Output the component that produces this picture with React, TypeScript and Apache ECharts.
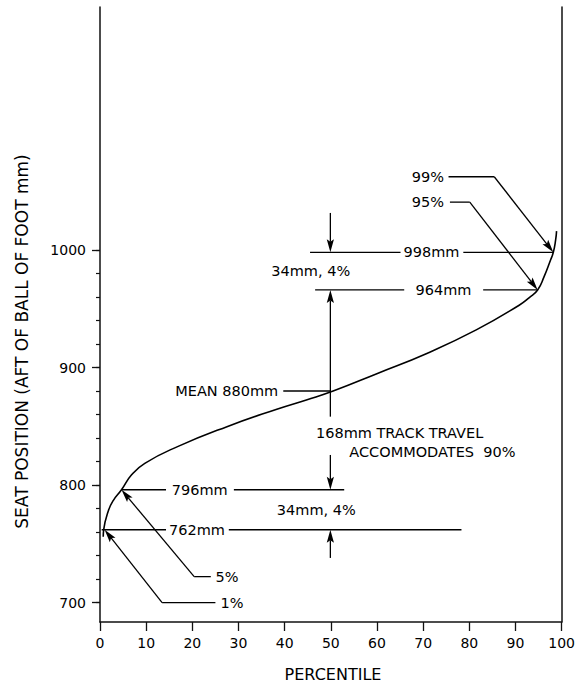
import React, { useEffect, useRef } from "react";
import * as echarts from "echarts";

// ---- Curve ----
const percentile = [0.7, 0.8, 1.8, 2.9, 4.66, 6.8, 9.7, 16.8, 27.5, 38.3, 44.7, 50.5, 60.1, 70.8, 81.5, 90.8, 93.0, 94.8, 96.2, 97.6, 98.2, 98.7, 98.9];
const seatMm = [756, 762, 778, 787, 796, 808.5, 818.5, 832.7, 849.7, 864.5, 872.4, 880, 895, 912, 932, 953, 959.5, 966, 977.3, 991.5, 998, 1008.5, 1016];

// ---- Axis ticks ----
const xTicks = [0, 10, 20, 30, 40, 50, 60, 70, 80, 90, 100];
const yLabelTicks = [700, 800, 900, 1000];
const yMinorTicks = [700, 720, 740, 760, 780, 800, 820, 840, 860, 880, 900, 920, 940, 960, 980, 1000];

// ---- Annotation texts (data coordinates: percentile, mm) ----
const annoTexts: [string, number, number, string][] = [
  ["99%", 74.5, 1062.3, "right"],
  ["95%", 74.5, 1040.7, "right"],
  ["998mm", 71.8, 998, "center"],
  ["964mm", 74.4, 966, "center"],
  ["34mm, 4%", 54.2, 981.7, "right"],
  ["MEAN 880mm", 38.6, 880, "right"],
  ["168mm TRACK TRAVEL", 64.9, 844.1, "center"],
  ["ACCOMMODATES  90%", 72, 828.4, "center"],
  ["796mm", 21.6, 796, "center"],
  ["34mm, 4%", 55.4, 778.9, "right"],
  ["762mm", 21, 762, "center"],
  ["5%", 25.0, 722.1, "left"],
  ["1%", 26.1, 700, "left"],
];

// plain line segments [p1, v1, p2, v2]
const annoSegments: number[][] = [
  [45.5, 998, 65.1, 998], [78.7, 998, 98.2, 998],
  [46.6, 966, 65.9, 966], [83, 966, 94.8, 966],
  [39.7, 880, 49.9, 880],
  [4.66, 796, 14.3, 796], [29, 796, 52.9, 796],
  [0.36, 762, 14.3, 762], [27.9, 762, 78.3, 762],
  [75.5, 1062.3, 85.4, 1062.3],
  [75.8, 1040.7, 80.1, 1040.7],
  [20.4, 722.1, 24.0, 722.1],
  [13.45, 700, 25.0, 700],
];

// arrows [fromP, fromV, tipP, tipV]
const annoArrows: number[][] = [
  [85.4, 1062.3, 98.2, 998],
  [80.1, 1040.7, 94.8, 966],
  [49.9, 1031.5, 49.9, 998],
  [49.9, 858.2, 49.9, 966],
  [49.9, 825.6, 49.9, 796],
  [49.9, 738, 49.9, 762],
  [20.4, 722.1, 4.66, 796],
  [13.45, 700, 1.0, 762],
];

const FONT = '"DejaVu Sans", "Liberation Sans", sans-serif';
const INK = "#000";

export default function App() {
  const ref = useRef<HTMLDivElement>(null);

  useEffect(() => {
    if (!ref.current) return;
    const chart = echarts.init(ref.current, undefined, { renderer: "svg" });
    const yMin = 683.5;
    const yMax = 1206.7;
    const option: any = {
      animation: false,
      backgroundColor: "#fff",
      grid: { left: 100, right: 12, top: 7, bottom: 61, containLabel: false },
      xAxis: {
        type: "value",
        min: 0,
        max: 100,
        interval: 10,
        axisLine: { show: true, lineStyle: { color: "#111", width: 1.5 } },
        axisTick: { show: true, inside: false, length: 9, lineStyle: { color: "#111", width: 1.3 }, customValues: xTicks },
        axisLabel: { color: INK, fontSize: 14, fontFamily: FONT, margin: 14, customValues: xTicks, formatter: (v: number) => String(v) },
        splitLine: { show: false },
      },
      yAxis: [
        {
          type: "value",
          min: yMin,
          max: yMax,
          position: "left",
          axisLine: { show: true, lineStyle: { color: "#111", width: 1.5 } },
          axisTick: { show: true, length: 4, lineStyle: { color: "#111", width: 1.2 }, customValues: yMinorTicks },
          axisLabel: { color: INK, fontSize: 14, fontFamily: FONT, margin: 14, customValues: yLabelTicks, formatter: (v: number) => String(v) },
          splitLine: { show: false },
        },
        {
          type: "value",
          min: yMin,
          max: yMax,
          position: "left",
          offset: 0,
          axisLine: { show: false },
          axisTick: { show: true, length: 8, lineStyle: { color: "#111", width: 1.3 }, customValues: yLabelTicks },
          axisLabel: { show: false },
          splitLine: { show: false },
        },
        {
          type: "value",
          min: yMin,
          max: yMax,
          position: "right",
          axisLine: { show: true, lineStyle: { color: "#111", width: 1.5 } },
          axisTick: { show: false },
          axisLabel: { show: false },
          splitLine: { show: false },
        },
      ],
      series: [
        {
          type: "line",
          data: percentile.map((p, i) => [p, seatMm[i]]),
          showSymbol: false,
          smooth: 0.5,
          lineStyle: { color: "#000", width: 1.6 },
          silent: true,
        },
      ],
    };
    chart.setOption(option);

    const toPx = (p: number, v: number) =>
      chart.convertToPixel({ xAxisIndex: 0, yAxisIndex: 0 }, [p, v]) as number[];

    const graphics: any[] = [];
    const stroke = { stroke: "#000", lineWidth: 1.3 };

    annoSegments.forEach(([p1, v1, p2, v2]) => {
      const a = toPx(p1, v1);
      const b = toPx(p2, v2);
      graphics.push({ type: "line", shape: { x1: a[0], y1: a[1], x2: b[0], y2: b[1] }, style: stroke, silent: true });
    });

    annoArrows.forEach(([p1, v1, p2, v2]) => {
      const a = toPx(p1, v1);
      const t = toPx(p2, v2);
      const dx = t[0] - a[0];
      const dy = t[1] - a[1];
      const len = Math.hypot(dx, dy);
      const ux = dx / len;
      const uy = dy / len;
      const nx = -uy;
      const ny = ux;
      const L = 13;
      const W = 3.6;
      const bx = t[0] - ux * L;
      const by = t[1] - uy * L;
      const notchX = bx + ux * 2.5;
      const notchY = by + uy * 2.5;
      graphics.push({ type: "line", shape: { x1: a[0], y1: a[1], x2: notchX, y2: notchY }, style: stroke, silent: true });
      graphics.push({
        type: "polygon",
        shape: { points: [[t[0], t[1]], [bx + nx * W, by + ny * W], [notchX, notchY], [bx - nx * W, by - ny * W]] },
        style: { fill: "#000" },
        silent: true,
      });
    });

    annoTexts.forEach(([text, p, v, align]) => {
      const a = toPx(p, v);
      graphics.push({
        type: "text",
        x: a[0],
        y: a[1],
        style: { text, fill: INK, fontSize: 14.5, fontFamily: FONT, align, verticalAlign: "middle" },
        silent: true,
      });
    });

    // axis titles
    graphics.push({
      type: "text",
      x: 333,
      y: 674,
      style: { text: "PERCENTILE", fill: INK, fontSize: 16, fontFamily: FONT, align: "center", verticalAlign: "middle" },
      silent: true,
    });
    graphics.push({
      type: "text",
      x: 21.7,
      y: 341.5,
      rotation: Math.PI / 2,
      style: {
        text: "SEAT POSITION (AFT OF BALL OF FOOT mm)",
        fill: INK,
        fontSize: 17,
        fontFamily: FONT,
        align: "center",
        verticalAlign: "middle",
      },
      silent: true,
    });

    chart.setOption({ graphic: graphics });

    return () => chart.dispose();
  }, []);

  return (
    <div
      ref={ref}
      style={{ position: "fixed", left: 0, top: 0, width: 578, height: 683, background: "#fff" }}
    />
  );
}
